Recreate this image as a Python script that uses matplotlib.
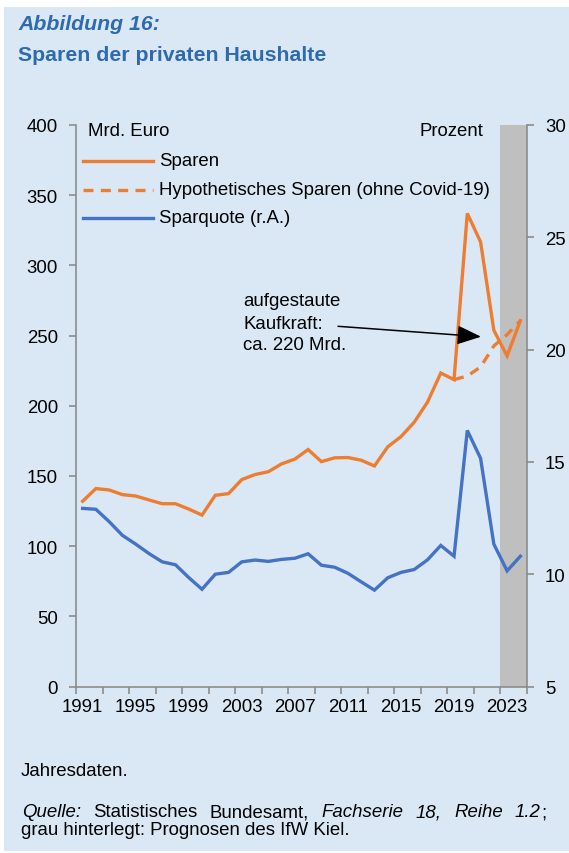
import matplotlib
matplotlib.use("Agg")
import matplotlib.pyplot as plt
from matplotlib.patches import Rectangle, FancyArrowPatch

plt.rcParams['font.family'] = ['Liberation Sans', 'DejaVu Sans']

years = list(range(1991, 2025))
sparen = [132, 141, 140, 136.7, 135.7, 132.9, 130.2, 130.2, 126.4, 122.1,
          136.2, 137.4, 147.4, 151, 153, 158.6, 162, 168.8, 160.2, 162.9,
          163.1, 161.2, 157.1, 170.7, 178, 188.3, 202.6, 223.3, 218.6, 337,
          316.7, 253.8, 235.5, 260.6]
hypo_years = [2019, 2020, 2021, 2022, 2023, 2024]
hypo = [218.6, 221.2, 227.6, 242.6, 250.7, 260.6]
sparquote = [12.93, 12.89, 12.34, 11.73, 11.34, 10.92, 10.55, 10.42, 9.85, 9.33,
             10.0, 10.08, 10.55, 10.63, 10.57, 10.66, 10.71, 10.91, 10.40, 10.31,
             10.04, 9.66, 9.29, 9.84, 10.08, 10.21, 10.64, 11.28, 10.80, 16.40,
             15.16, 11.34, 10.15, 10.80]
forecast_years = [2023, 2024]
xlabels = [1991, 1995, 1999, 2003, 2007, 2011, 2015, 2019, 2023]
left_ticks = [0, 50, 100, 150, 200, 250, 300, 350, 400]
right_ticks = [5, 10, 15, 20, 25, 30]

BG = '#DAE8F5'
ORANGE = '#ED7D31'
BLUE = '#4472C4'
GREY = '#BFBFBF'
SPINE = '#8C8C8C'
TITLE = '#2E6AAD'
FS = 13.4

W, H = 569, 854
fig = plt.figure(figsize=(W / 100, H / 100), dpi=100, facecolor='white')
fig.patches.append(Rectangle((4 / W, 2 / H), 1 - 4 / W, (852 - 8) / H,
                             transform=fig.transFigure, facecolor=BG,
                             edgecolor='none', zorder=-10))

def fx(px):
    return px / W

def fy(py):
    return 1 - py / H

ax = fig.add_axes([fx(76), fy(687.5), fx(527) - fx(76), fy(126) - fy(687.5)])
ax.set_facecolor('none')
ax2 = ax.twinx()
ax2.set_facecolor('none')

ax.set_xlim(1990.5, 2024.5)
ax.set_ylim(0, 400)
ax2.set_ylim(5, 30)

# forecast band
ax.axvspan(forecast_years[0] - 0.5, forecast_years[-1] + 0.5, color=GREY, zorder=0, lw=0)

ax.plot(years, sparen, color=ORANGE, lw=2.4, zorder=3, solid_joinstyle='miter')
ax.plot(hypo_years, hypo, color=ORANGE, lw=2.4, ls=(0, (3, 2.2)), zorder=3)
ax2.plot(years, sparquote, color=BLUE, lw=2.4, zorder=3, solid_joinstyle='miter')

for a in (ax, ax2):
    a.spines['top'].set_visible(False)
    for s in a.spines.values():
        s.set_color(SPINE)
        s.set_linewidth(1.2)

ax.spines['right'].set_visible(False)
ax2.spines['left'].set_visible(False)
ax2.spines['bottom'].set_visible(False)

ax.set_yticks(left_ticks)
ax.set_yticklabels([str(v) for v in left_ticks], fontsize=FS)
ax2.set_yticks(right_ticks)
ax2.set_yticklabels([str(v) for v in right_ticks], fontsize=FS)
ax.tick_params(axis='y', direction='out', length=5, width=1.2, color=SPINE, pad=8)
ax2.tick_params(axis='y', direction='out', length=5, width=1.2, color=SPINE, pad=8)

# x axis: major ticks at category boundaries every 2 years, labels every 4 years
boundaries = [y - 0.5 for y in years[::2]] + [years[-1] + 0.5]
ax.set_xticks(boundaries)
ax.set_xticklabels([''] * len(boundaries))
ax.set_xticks(xlabels, minor=True)
ax.set_xticklabels([str(v) for v in xlabels], minor=True, fontsize=FS)
ax.tick_params(axis='x', which='major', direction='out', length=5, width=1.2, color=SPINE)
ax.tick_params(axis='x', which='minor', length=0, pad=8)

# legend-like annotations
fig.text(fx(88), fy(132), 'Mrd. Euro', fontsize=FS, va='center', ha='left')
fig.text(fx(483), fy(131), 'Prozent', fontsize=FS, va='center', ha='right')
leg_rows = [(162, 'Sparen', '-', ORANGE), (190.5, 'Hypothetisches Sparen (ohne Covid-19)', (0, (3, 2.2)), ORANGE),
            (219, 'Sparquote (r.A.)', '-', BLUE)]
for yy, lab, ls, col in leg_rows:
    fig.lines.append(plt.Line2D([fx(83), fx(152.5)], [fy(yy), fy(yy)], transform=fig.transFigure,
                                color=col, lw=2.4, ls=ls))
    fig.text(fx(159), fy(yy), lab, fontsize=FS, va='center', ha='left')

# annotation
fig.text(fx(243), fy(302), 'aufgestaute', fontsize=FS, va='center', ha='left')
fig.text(fx(243), fy(324.5), 'Kaufkraft:', fontsize=FS, va='center', ha='left')
fig.text(fx(243), fy(346), 'ca. 220 Mrd.', fontsize=FS, va='center', ha='left')
fig.patches.append(FancyArrowPatch(
    (fx(338), fy(327.3)), (fx(481), fy(337.7)), transform=fig.transFigure,
    arrowstyle='-|>,head_length=1.05,head_width=0.42', mutation_scale=14,
    color='black', lw=1.1, shrinkA=0, shrinkB=0))

# titles
fig.text(fx(18), fy(25), 'Abbildung 16:', fontsize=15.3, fontweight='bold', fontstyle='italic',
         color=TITLE, va='center', ha='left')
fig.text(fx(18), fy(55.5), 'Sparen der privaten Haushalte', fontsize=15.3, fontweight='bold',
         color=TITLE, va='center', ha='left')

# footer
fig.text(fx(21), fy(772), 'Jahresdaten.', fontsize=FS, va='center', ha='left')
fig.text(fx(21), fy(831), 'grau hinterlegt: Prognosen des IfW Kiel.', fontsize=FS, va='center', ha='left')

# justified source line
pieces = [('Quelle:', 'italic', True), ('Statistisches', 'normal', True), ('Bundesamt,', 'normal', True),
          ('Fachserie', 'italic', True), ('18,', 'italic', True), ('Reihe', 'italic', True),
          ('1.2', 'italic', True), (';', 'normal', False)]
renderer = fig.canvas.get_renderer()
texts = []
for w, st, _ in pieces:
    t = fig.text(0, fy(813), w, fontsize=FS, fontstyle=st, va='center', ha='left')
    texts.append(t)
widths = [t.get_window_extent(renderer).width for t in texts]
x_left, x_right = 22.0, 546.0
n_gaps = sum(1 for p in pieces[1:] if p[2])
gap = (x_right - x_left - sum(widths)) / n_gaps
x = x_left
for i, (t, wd) in enumerate(zip(texts, widths)):
    if i > 0 and pieces[i][2]:
        x += gap
    t.set_x(fx(x))
    x += wd

fig.savefig('out.png', dpi=100, facecolor='white')
